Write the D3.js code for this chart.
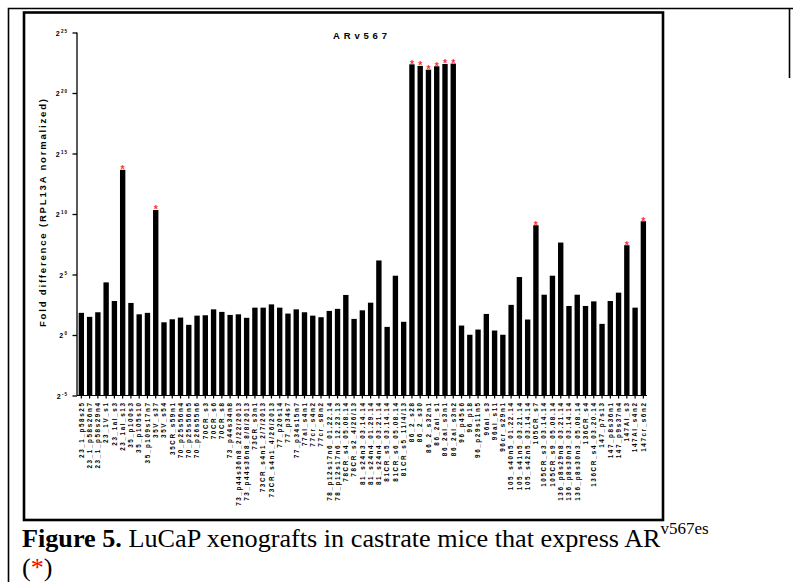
<!DOCTYPE html>
<html>
<head>
<meta charset="utf-8">
<script src="https://cdn.jsdelivr.net/npm/d3@7/dist/d3.min.js"></script>
<style>
  body { margin: 0; background: #fff; }
  svg { display: block; }
</style>
</head>
<body>
<svg id="chart" width="793" height="582"></svg>
<script>
// sample names, left to right
var samples = [
  "23_1_p58s25", "23_1_p58s26n7", "23_1_p58s29n4", "23_1V_s1", "23_1al_s3", "23_1al_s13",
  "35_p100s3", "35_p105s10", "35_p109s17n7", "35V_s37", "35V_s54", "35CR_s59n1",
  "70_p25s56n4", "70_p25s56n5", "70_p26s55n6", "70CR_s3", "70CR_s6", "70CR_s8",
  "73_p44s34n8", "73_p44s36n8_2/22/2013", "73_p44s36n8_8/8/2013", "73CR_s3n1",
  "73CR_s4n1_2/7/2013", "73CR_s4n1_4/26/2013",
  "77_p20s14", "77_p34s7", "77_p34s15n7", "77al_s4n1", "77cr_s4n2", "77cr_s8n2",
  "78_p12s17n6_01.22.14", "78_p12s17n6_12.23.13", "78CR_s4_05.08.14", "78CR_s2_4/26/13",
  "81_s24n3_03.14.14", "81_s24n4_01.29.14", "81_s24n4_03.21.14", "81CR_s5_03.14.14",
  "81CR_s6_05.08.14", "81CR_s5_11/4/13",
  "86_2_s28", "86_2_s30", "86_2_s32n1", "86_2al_s1", "86_2al_s3n1", "86_2al_s3n2",
  "96_p45s6", "96_p18", "96_p29s11n5", "96al_s3", "96al_s11", "96cr_s29n1",
  "105_s40n5_01.22.14", "105_s41n5_03.21.14", "105_s42n5_03.14.14", "105CR_s7",
  "105CR_s3_03.14.14", "105CR_s9_05.08.14",
  "136_p8s29n8_03.21.14", "136_p8s30n3_03.14.14", "136_p8s30n3_05.08.14", "136CR_s4",
  "136CR_s4_03.20.14",
  "147_p7s13", "147_p8s36n1", "147_p9s37n4", "147AI_s3", "147AI_s4n2", "147cr_s6n2"
];

// fold difference as log2 (bar height = 2^value)
var log2Fold = [
  1.83, 1.50, 1.88, 4.35, 2.81, 13.65,
  2.65, 1.71, 1.83, 10.33, 1.05, 1.30,
  1.44, 0.84, 1.60, 1.63, 2.12, 1.91,
  1.66, 1.71, 1.42, 2.26, 2.26, 2.53,
  2.26, 1.77, 2.12, 1.88, 1.60, 1.47,
  1.99, 2.16, 3.31, 1.33,
  2.04, 2.67, 6.16, 0.67, 4.90, 1.09,
  22.37, 22.24, 21.93, 22.21, 22.40, 22.43,
  0.78, 0.02, 0.45, 1.74, 0.37, 0.02,
  2.49, 4.79, 1.28, 9.07, 3.33, 4.90,
  7.64, 2.40, 3.33, 2.40, 2.78,
  0.92, 2.81, 3.50, 7.42, 2.26, 9.40
];

// samples that express ARv567es
var starred = [
  "23_1al_s13", "35V_s37",
  "86_2_s28", "86_2_s30", "86_2_s32n1", "86_2al_s1", "86_2al_s3n1", "86_2al_s3n2",
  "105CR_s7", "147AI_s3", "147cr_s6n2"
];

var yTickExp = [-5, 0, 5, 10, 15, 20, 25];

var svg = d3.select("#chart");

svg.append("rect").attr("width", 793).attr("height", 582).attr("fill", "#fff");

// page frame
svg.append("path")
  .attr("d", "M8.5,582 V8.5 H793")
  .attr("fill", "none").attr("stroke", "#000").attr("stroke-width", 1.6);
svg.append("path")
  .attr("d", "M789.5,8.5 V78")
  .attr("fill", "none").attr("stroke", "#000").attr("stroke-width", 1.6);

// figure box
svg.append("rect")
  .attr("x", 24).attr("y", 12.5).attr("width", 639).attr("height", 507.5)
  .attr("fill", "none").attr("stroke", "#000").attr("stroke-width", 2.6);

var x = d3.scaleBand()
  .domain(samples)
  .range([77, 647.7])
  .paddingInner(0.35)
  .paddingOuter(0.2);

var y = d3.scaleLinear()
  .domain([-5, 25])
  .range([395.5, 32.5]);

var g = svg.append("g");

// bars
g.selectAll("rect.bar")
  .data(samples).enter().append("rect")
  .attr("class", "bar")
  .attr("x", function(d) { return x(d); })
  .attr("width", x.bandwidth())
  .attr("y", function(d, i) { return y(log2Fold[i]); })
  .attr("height", function(d, i) { return y(-5) - y(log2Fold[i]); })
  .attr("fill", "#000");

// red asterisks
g.selectAll("text.star")
  .data(starred).enter().append("text")
  .attr("class", "star")
  .attr("x", function(d) { return x(d) + x.bandwidth() / 2; })
  .attr("y", function(d) { return y(log2Fold[samples.indexOf(d)]) + 3.3; })
  .attr("text-anchor", "middle")
  .attr("font-family", "Arial, 'Liberation Sans', sans-serif")
  .attr("font-size", 10.5)
  .attr("font-weight", "bold")
  .attr("fill", "#ff3030")
  .text("*");

// y axis
var yAxis = d3.axisLeft(y)
  .tickValues(yTickExp)
  .tickSize(4.5)
  .tickFormat("");
var yg = svg.append("g")
  .attr("transform", "translate(77,0)")
  .call(yAxis);
yg.select(".domain").attr("d", "M0," + y(25) + "V" + y(-5));
yg.selectAll("path, line").attr("stroke", "#000").attr("stroke-width", 1.3);

var yLab = svg.append("g").selectAll("text")
  .data(yTickExp).enter().append("text")
  .attr("x", 68)
  .attr("y", function(d) { return y(d) + 3.2; })
  .attr("text-anchor", "end")
  .attr("font-family", "Arial, 'Liberation Sans', sans-serif")
  .attr("font-weight", "bold")
  .attr("font-size", 7);
yLab.append("tspan").text("2");
yLab.append("tspan")
  .attr("dx", 1.2)
  .attr("dy", -3)
  .attr("font-size", 4.6)
  .attr("letter-spacing", 1)
  .text(function(d) { return d; });

// x axis
var xAxis = d3.axisBottom(x).tickSize(3).tickFormat("");
var xg = svg.append("g")
  .attr("transform", "translate(0," + y(-5) + ")")
  .call(xAxis);
xg.select(".domain").attr("d", "M77,0H647");
xg.selectAll("path, line").attr("stroke", "#000").attr("stroke-width", 1.2);

svg.append("g").selectAll("text")
  .data(samples).enter().append("text")
  .attr("transform", function(d) {
    return "translate(" + (x(d) + x.bandwidth() / 2) + ",401.5) rotate(-90)";
  })
  .attr("dy", "0.36em")
  .attr("text-anchor", "end")
  .attr("font-family", "Arial, 'Liberation Sans', sans-serif")
  .attr("font-weight", "bold")
  .attr("font-size", 6.3)
  .attr("letter-spacing", 1.6)
  .text(function(d) { return d; });

// titles
svg.append("text")
  .attr("x", 333).attr("y", 39)
  .attr("textLength", 54).attr("lengthAdjust", "spacing")
  .attr("font-family", "Arial, 'Liberation Sans', sans-serif")
  .attr("font-weight", "bold")
  .attr("font-size", 9.5)
  .text("ARv567");

svg.append("text")
  .attr("transform", "translate(46,327) rotate(-90)")
  .attr("textLength", 228).attr("lengthAdjust", "spacing")
  .attr("font-family", "Arial, 'Liberation Sans', sans-serif")
  .attr("font-weight", "bold")
  .attr("font-size", 9.5)
  .text("Fold difference (RPL13A normalized)");

// caption
var cap = svg.append("text")
  .attr("x", 22).attr("y", 547)
  .attr("font-family", "'Times New Roman', 'Liberation Serif', serif")
  .attr("font-size", 26.2)
  .attr("fill", "#000");
cap.append("tspan").attr("font-weight", "bold").text("Figure 5.");
cap.append("tspan").text(" LuCaP xenografts in castrate mice that express AR");
cap.append("tspan").attr("font-size", 17).attr("dy", -13).text("v567es");

var cap2 = svg.append("text")
  .attr("x", 22).attr("y", 575.5)
  .attr("font-family", "'Times New Roman', 'Liberation Serif', serif")
  .attr("font-size", 26.2);
cap2.append("tspan").text("(");
cap2.append("tspan").attr("fill", "#ff0000").text("*");
cap2.append("tspan").text(")");
</script>
</body>
</html>
